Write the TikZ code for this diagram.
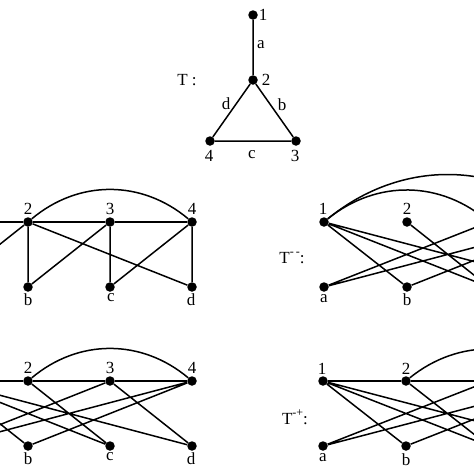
\documentclass[tikz,border=0pt]{standalone}
\usepackage{fontspec}
\setmainfont{Liberation Serif}
\newcommand{\supdash}[1]{\raisebox{0.5em}{\fontsize{12}{13}\selectfont #1}}
\begin{document}
\begin{tikzpicture}[x=1pt,y=-1pt,
  dot/.style={circle,fill=black,inner sep=0pt,minimum size=9.5pt},
  lbl/.style={inner sep=0pt,font=\fontsize{17}{19}\selectfont},
  edge/.style={line width=1.5pt},
  arcedge/.style={line width=1.5pt,bend left=40}]
\useasboundingbox (0,0) rectangle (474,474);
\clip (0,0) rectangle (474,474);
% ---------- T ----------
\node[dot] (t1) at (253,15) {};
\node[dot] (t2) at (253,80) {};
\node[dot] (t3) at (296,141) {};
\node[dot] (t4) at (210,141) {};
\draw[edge] (t1) -- (t2) (t2) -- (t3) (t3) -- (t4) (t4) -- (t2);
\node[lbl] (tl1) at (263,15) {1};
\node[lbl] (tl2) at (266,80) {2};
\node[lbl] (tl3) at (295,156) {3};
\node[lbl] (tl4) at (209,156) {4};
\node[lbl] (tla) at (261,45) {a};
\node[lbl] (tlb) at (282,105) {b};
\node[lbl] (tlc) at (252,155) {c};
\node[lbl] (tld) at (226,104) {d};
\node[lbl] (tT) at (187,80) {T :};
% ---------- upper left ----------
\coordinate (A1) at (-54,222);
\node[dot] (A2) at (28,222) {};
\node[dot] (A3) at (110,222) {};
\node[dot] (A4) at (192,222) {};
\coordinate (Aa) at (-54,287);
\node[dot] (Ab) at (28,287) {};
\node[dot] (Ac) at (110,287) {};
\node[dot] (Ad) at (192,287) {};
\draw[edge] (A1) -- (A2) -- (A3) -- (A4);
\draw[arcedge] (A2) to (A4);
\draw[edge] (Aa) -- (A2) (A2) -- (Ab) (A3) -- (Ab) (A3) -- (Ac)
  (A4) -- (Ac) (A2) -- (Ad) (A4) -- (Ad);
\node[lbl] (Al2) at (28,209) {2};
\node[lbl] (Al3) at (110,209) {3};
\node[lbl] (Al4) at (192,209) {4};
\node[lbl] (Alb) at (28,300) {b};
\node[lbl] (Alc) at (111,298) {c};
\node[lbl] (Ald) at (191,300) {d};
% ---------- upper right ----------
\node[dot] (B1) at (324,222) {};
\node[dot] (B2) at (407,222) {};
\coordinate (B3) at (489,222);
\coordinate (B4) at (571,222);
\node[dot] (Ba) at (324,287) {};
\node[dot] (Bb) at (407,287) {};
\coordinate (Bc) at (489,287);
\coordinate (Bd) at (571,287);
\draw[arcedge] (B1) to (B3);
\draw[arcedge] (B1) to (B4);
\draw[edge] (B1) -- (Bb) (B1) -- (Bc) (B1) -- (Bd) (B2) -- (Bc)
  (Ba) -- (B3) (Ba) -- (B4) (Bb) -- (B4) (B3) -- (Bd);
\node[lbl] (Bl1) at (323,209) {1};
\node[lbl] (Bl2) at (407,209) {2};
\node[lbl] (Bla) at (324,299) {a};
\node[lbl] (Blb) at (407,300) {b};
\node[lbl] (BT) at (292,258) {T\supdash{-\,-}:};
% ---------- lower left ----------
\coordinate (C1) at (-54,381);
\node[dot] (C2) at (28,381) {};
\node[dot] (C3) at (110,381) {};
\node[dot] (C4) at (192,381) {};
\coordinate (Ca) at (-54,446);
\node[dot] (Cb) at (28,446) {};
\node[dot] (Cc) at (110,446) {};
\node[dot] (Cd) at (192,446) {};
\draw[edge] (C1) -- (C2) -- (C3) -- (C4);
\draw[arcedge] (C2) to (C4);
\draw[edge] (C1) -- (Cb) (C1) -- (Cc) (C1) -- (Cd) (C2) -- (Cc)
  (Ca) -- (C3) (Ca) -- (C4) (Cb) -- (C4) (C3) -- (Cd);
\node[lbl] (Cl2) at (28,368) {2};
\node[lbl] (Cl3) at (110,368) {3};
\node[lbl] (Cl4) at (192,368) {4};
\node[lbl] (Clb) at (28,459) {b};
\node[lbl] (Clc) at (110,457) {c};
\node[lbl] (Cld) at (191,459) {d};
% ---------- lower right ----------
\node[dot] (D1) at (323,381) {};
\node[dot] (D2) at (406,381) {};
\coordinate (D3) at (489,381);
\coordinate (D4) at (571,381);
\node[dot] (Da) at (323,446) {};
\node[dot] (Db) at (406,446) {};
\coordinate (Dc) at (489,446);
\coordinate (Dd) at (571,446);
\draw[edge] (D1) -- (D2) -- (D3) -- (D4);
\draw[arcedge] (D2) to (D4);
\draw[edge] (D1) -- (Db) (D1) -- (Dc) (D1) -- (Dd) (D2) -- (Dc)
  (Da) -- (D3) (Da) -- (D4) (Db) -- (D4) (D3) -- (Dd);
\node[lbl] (Dl1) at (322,369) {1};
\node[lbl] (Dl2) at (406,369) {2};
\node[lbl] (Dla) at (323,458) {a};
\node[lbl] (Dlb) at (406,460) {b};
\node[lbl] (DT) at (295,417) {T\supdash{-+}:};
\end{tikzpicture}
\end{document}
